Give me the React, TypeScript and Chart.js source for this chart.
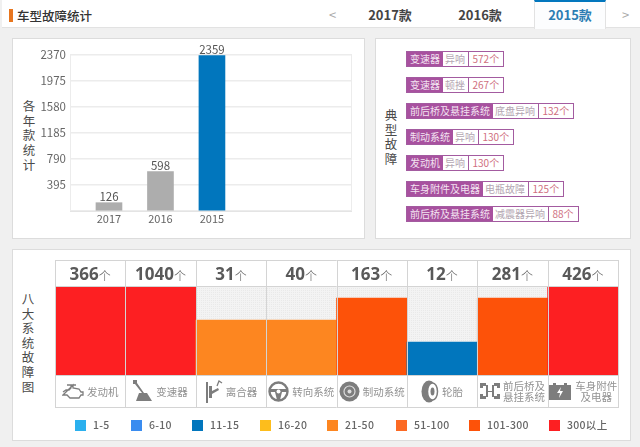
import React, { useEffect, useRef } from "react";
import { Chart, registerables } from "chart.js";

Chart.register(...registerables);

const FONT = '"Noto Sans CJK SC", "Noto Sans", sans-serif';

// Yearly chart
const years = ["2017", "2016", "2015"];
const yearPositions = [1, 2, 3];
const yearCounts = [126, 598, 2359];
const yearColors = ["#adadad", "#adadad", "#0176bd"];
const yearTicks = [0, 395, 790, 1185, 1580, 1975, 2370];

// Typical faults
const faultSystems = ["变速器", "变速器", "前后桥及悬挂系统", "制动系统", "发动机", "车身附件及电器", "前后桥及悬挂系统"];
const faultKinds = ["异响", "顿挫", "底盘异响", "异响", "异响", "电瓶故障", "减震器异响"];
const faultCounts = ["572个", "267个", "132个", "130个", "130个", "125个", "88个"];

// Eight systems
const systemNames = ["发动机", "变速器", "离合器", "转向系统", "制动系统", "轮胎", "前后桥及\n悬挂系统", "车身附件\n及电器"];
const systemCounts = [366, 1040, 31, 40, 163, 12, 281, 426];
const systemLevels = [8, 8, 5, 5, 7, 3, 7, 8];

// Legend
const levelLabels = ["1-5", "6-10", "11-15", "16-20", "21-50", "51-100", "101-300", "300以上"];
const levelColors = ["#2bb0ee", "#3a8cf0", "#0176bd", "#fdbd1c", "#fd8620", "#fc6a24", "#fd5209", "#fd1f22"];

const tabs = ["2017款", "2016款", "2015款"];
const verticalTitle = (s: string) => s.split("");

const abs = (x: number, y: number, w: number, h: number): React.CSSProperties => ({
  position: "absolute", left: x, top: y, width: w, height: h,
});

const panel: React.CSSProperties = {
  position: "absolute", background: "#fff", border: "1px solid #dcdcdc", boxSizing: "border-box",
};

function VTitle({ text, x, y, gap, size }: { text: string; x: number; y: number; gap: number; size: number }) {
  return (
    <div style={{ position: "absolute", left: x, top: y, width: 20, textAlign: "center", color: "#4a4a4a", fontSize: size, lineHeight: `${gap}px` }}>
      {verticalTitle(text).map((c, i) => <div key={i}>{c}</div>)}
    </div>
  );
}

const iconColor = "#7d7d7d";
function Icon({ i }: { i: number }) {
  const s = { fill: "none", stroke: iconColor, strokeWidth: 1.3 };
  const f = { fill: iconColor };
  if (i === 0) return <svg width="22" height="17" viewBox="0 0 22 17"><path {...s} d="M1 9l3-2h3l2-2V2h-4M9 2h5M11 2v3l6 1 2 3h2v3h-2l-2 3H8l-3-3H1z" /></svg>;
  if (i === 1) return <svg width="20" height="22" viewBox="0 0 20 22"><path {...f} d="M0 0h4v3l7 10h3l5 8H3l3-8h3L2 4H0z" /></svg>;
  if (i === 2) return <svg width="18" height="25" viewBox="0 0 18 25"><path {...f} d="M1 3h2v21H1zM4 7h3v12H4zM7 12l6-3 1 2-7 4z" /><path {...s} d="M12 7l2-5 3 2" /></svg>;
  if (i === 3) return <svg width="21" height="21" viewBox="0 0 21 21"><circle cx="10.5" cy="10.5" r="9" fill="none" stroke={iconColor} strokeWidth="2.4" /><path {...f} d="M2 8h17v3h-5l-2 8H9l-2-8H2z" /><circle cx="10.5" cy="10.5" r="2" fill="#fff" /></svg>;
  if (i === 4) return <svg width="21" height="21" viewBox="0 0 21 21"><circle cx="10.5" cy="10.5" r="10" {...f} /><circle cx="10.5" cy="10.5" r="5.5" fill="none" stroke="#ddd" strokeWidth="1.2" /><circle cx="10.5" cy="10.5" r="2" fill="#ddd" /></svg>;
  if (i === 5) return <svg width="18" height="23" viewBox="0 0 18 23"><ellipse cx="8" cy="11.5" rx="7.5" ry="11" {...f} /><ellipse cx="11.5" cy="11.5" rx="5" ry="8.5" fill="#fff" stroke={iconColor} strokeWidth="1.5" /><ellipse cx="11.5" cy="11.5" rx="2" ry="4" {...f} /></svg>;
  if (i === 6) return <svg width="20" height="18" viewBox="0 0 20 18"><path {...f} d="M0 1h6v3H3v2H0zM14 1h6v5h-3V4h-3zM0 12h3v2h3v3H0zM14 14h3v-2h3v5h-6z" /><path d="M6 3h2v12H6zM12 3h2v12h-2z" {...f} /><path d="M6 9h8v1H6z" {...f} /></svg>;
  return <svg width="24" height="18" viewBox="0 0 24 18"><path {...f} d="M1 3h4V1h3v2h8V1h3v2h4v15H1z" /><path d="M13 5l-4 6h3l-1 5 4-7h-3z" fill="#fff" /></svg>;
}

function dotPattern(ctx: CanvasRenderingContext2D) {
  const p = document.createElement("canvas");
  p.width = 2; p.height = 2;
  const g = p.getContext("2d")!;
  g.fillStyle = "#f3f3f3"; g.fillRect(0, 0, 2, 2);
  g.fillStyle = "#e9e9e9"; g.fillRect(0, 0, 1, 1);
  return ctx.createPattern(p, "repeat")!;
}

export default function App() {
  const topRef = useRef<HTMLCanvasElement>(null);
  const botRef = useRef<HTMLCanvasElement>(null);

  useEffect(() => {
    const top = new Chart(topRef.current!, {
      type: "bar",
      data: {
        datasets: [{
          data: yearPositions.map((x, i) => ({ x, y: yearCounts[i] })),
          backgroundColor: yearColors,
          barThickness: 26,
        }],
      },
      options: {
        animation: false, responsive: false, events: [],
        layout: { padding: { top: 10, left: 0, right: 0, bottom: 0 } },
        plugins: { legend: { display: false }, tooltip: { enabled: false } },
        scales: {
          x: {
            type: "linear", min: 0.243, max: 5.72, offset: false,
            afterBuildTicks: (a: any) => { a.ticks = yearPositions.map((value) => ({ value })); },
            afterFit: (s: any) => { s.height = 17; },
            grid: { display: false, drawTicks: false, tickLength: 0, offset: false },
            border: { color: "#e4e4e4", width: 1 },
            ticks: {
              autoSkip: false, maxRotation: 0, padding: 1,
              color: "#666", font: { size: 11, family: FONT },
              callback: (v: any) => years[yearPositions.indexOf(Number(v))] ?? "",
            },
          },
          y: {
            min: 0, max: 2370,
            afterBuildTicks: (a: any) => { a.ticks = yearTicks.map((value) => ({ value })); },
            afterFit: (s: any) => { s.width = 48; },
            grid: { color: "#ececec", lineWidth: 1.5, drawTicks: false },
            border: { display: false },
            ticks: {
              padding: 4, color: "#666", font: { size: 11.5, family: FONT },
              callback: (v: any) => (Number(v) === 0 ? "" : String(v)),
            },
          },
        },
      },
      plugins: [{
        id: "valueLabels",
        afterDatasetsDraw(c: any) {
          const { ctx, chartArea: a } = c;
          const meta = c.getDatasetMeta(0);
          ctx.save();
          ctx.strokeStyle = "#ececec";
          ctx.lineWidth = 1;
          ctx.beginPath();
          ctx.moveTo(a.right - 0.5, a.top); ctx.lineTo(a.right - 0.5, a.bottom);
          ctx.moveTo(a.left + 0.5, a.top); ctx.lineTo(a.left + 0.5, a.bottom);
          ctx.stroke();
          ctx.font = `11.5px ${FONT}`;
          ctx.fillStyle = "#555";
          ctx.textAlign = "center";
          ctx.textBaseline = "alphabetic";
          meta.data.forEach((b: any, i: number) => ctx.fillText(String(yearCounts[i]), b.x, b.y - 2));
          ctx.restore();
        },
      }],
    } as any);

    const bot = new Chart(botRef.current!, {
      type: "bar",
      data: {
        labels: systemNames,
        datasets: [{
          data: systemLevels,
          backgroundColor: systemLevels.map((l) => levelColors[l - 1]),
          categoryPercentage: 1, barPercentage: 1,
          borderWidth: 0,
        }],
      },
      options: {
        animation: false, responsive: false, events: [],
        layout: { padding: { top: 27, bottom: 33, left: 0, right: 1 } },
        plugins: { legend: { display: false }, tooltip: { enabled: false } },
        scales: {
          x: { display: false },
          y: { display: false, min: 0, max: 8 },
        },
      },
      plugins: [{
        id: "cellGrid",
        beforeDatasetsDraw(c: any) {
          const { ctx, chartArea: a } = c;
          ctx.save();
          ctx.fillStyle = dotPattern(ctx);
          ctx.fillRect(a.left, a.top, a.right - a.left, a.bottom - a.top);
          ctx.restore();
        },
        afterDatasetsDraw(c: any) {
          const { ctx, chartArea: a, scales } = c;
          const band = (a.right - a.left) / systemNames.length;
          ctx.save();
          ctx.strokeStyle = "#d4d4d4";
          ctx.lineWidth = 1;
          ctx.beginPath();
          for (let i = 0; i <= systemNames.length; i++) {
            const x = Math.round(a.left + band * i) + 0.5;
            ctx.moveTo(x, 0);
            ctx.lineTo(x, c.height);
          }
          ctx.moveTo(a.left, 0.5); ctx.lineTo(a.right, 0.5);
          ctx.moveTo(a.left, c.height - 0.5); ctx.lineTo(a.right, c.height - 0.5);
          ctx.moveTo(a.left, a.top - 0.5); ctx.lineTo(a.right, a.top - 0.5);
          ctx.moveTo(a.left, a.bottom + 0.5); ctx.lineTo(a.right, a.bottom + 0.5);
          ctx.stroke();

          ctx.textBaseline = "alphabetic";
          systemCounts.forEach((n, i) => {
            const cx = scales.x.getPixelForValue(i);
            const num = String(n);
            ctx.font = `bold 17px "Open Sans", ${FONT}`;
            const w1 = ctx.measureText(num).width;
            ctx.font = `300 12px ${FONT}`;
            const w2 = ctx.measureText("个").width;
            const x0 = cx - (w1 + w2) / 2;
            ctx.textAlign = "left";
            ctx.fillStyle = "#595959";
            ctx.font = `bold 17px "Open Sans", ${FONT}`;
            ctx.fillText(num, x0, a.top - 7);
            ctx.font = `300 12px ${FONT}`;
            ctx.fillText("个", x0 + w1, a.top - 6);
          });
          ctx.restore();
        },
      }],
    } as any);

    return () => { top.destroy(); bot.destroy(); };
  }, []);

  const cellW = 563 / 8;
  return (
    <div style={{ position: "fixed", inset: 0, width: 640, height: 447, overflow: "hidden", background: "#f0f0f0", fontFamily: FONT }}>
      {/* header */}
      <div style={{ ...abs(2, 0, 638, 28), background: "#fff", borderBottom: "1px solid #e2e2e2", boxSizing: "border-box" }} />
      <div style={{ ...abs(9, 9, 4, 13), background: "#e8761e" }} />
      <div style={{ position: "absolute", left: 17, top: 6, fontSize: 12.5, fontWeight: 500, color: "#333", lineHeight: "19px" }}>车型故障统计</div>
      <div style={{ position: "absolute", left: 329, top: 5, fontSize: 13, color: "#aaa" }}>&lt;</div>
      <div style={{ position: "absolute", left: 622, top: 5, fontSize: 13, color: "#aaa" }}>&gt;</div>
      <div style={{ ...abs(534, 0, 72, 29), background: "#fcfdfe", borderTop: "2px solid #0176bd", borderLeft: "1px solid #e2e2e2", borderRight: "1px solid #e2e2e2", boxSizing: "border-box" }} />
      {tabs.map((t, i) => (
        <div key={t} style={{ position: "absolute", left: [368, 458, 548][i], top: 5, width: 44, textAlign: "center", fontSize: 13, fontWeight: 700, lineHeight: "20px", color: i === 2 ? "#2c7db3" : "#444", whiteSpace: "nowrap" }}>{t}</div>
      ))}

      {/* top-left panel */}
      <div style={{ ...panel, ...abs(12, 38, 353, 201) }} />
      <VTitle text="各年款统计" x={19} y={99} gap={14.7} size={12.5} />
      <canvas ref={topRef} width={330} height={184} style={{ position: "absolute", left: 22, top: 44, width: 330, height: 184 }} />

      {/* top-right panel */}
      <div style={{ ...panel, ...abs(375, 38, 256, 201) }} />
      <VTitle text="典型故障" x={381} y={108} gap={14.7} size={12.5} />
      {faultSystems.map((sys, i) => (
        <div key={i} style={{ position: "absolute", left: 406, top: 51 + i * 25.9, height: 16, display: "flex", fontSize: 10, lineHeight: "14px", whiteSpace: "nowrap", border: "1px solid #a35ba0", boxSizing: "border-box" }}>
          <span style={{ background: "#a8519f", color: "#f3e3f1", padding: "0 2.5px 0 3px" }}>{sys}</span>
          <span style={{ background: "#fff", color: "#b3a6b1", padding: "0 2.5px", borderRight: "1px solid #a35ba0" }}>{faultKinds[i]}</span>
          <span style={{ background: "#fff", color: "#cf6f80", padding: "0 4px" }}>{faultCounts[i]}</span>
        </div>
      ))}

      {/* bottom panel */}
      <div style={{ ...panel, ...abs(12, 249, 619, 192) }} />
      <VTitle text="八大系统故障图" x={18} y={292} gap={14.6} size={12.5} />
      <canvas ref={botRef} width={564} height={148} style={{ position: "absolute", left: 54.5, top: 260, width: 564, height: 148 }} />
      {systemNames.map((name, i) => (
        <div key={i} style={{ position: "absolute", left: 55 + i * cellW, top: 375, width: cellW, height: 32, display: "flex", alignItems: "center", justifyContent: "center", gap: 3 }}>
          <Icon i={i} />
          <div style={{ fontSize: 10.5, lineHeight: "11px", color: "#929292", textAlign: "center", whiteSpace: "pre" }}>{name}</div>
        </div>
      ))}

      {/* legend */}
      {levelLabels.map((l, i) => {
        const x = [75, 131, 192, 260, 327, 396, 469, 549][i];
        return (
          <React.Fragment key={l}>
            <div style={{ ...abs(x, 420, 11, 11), background: levelColors[i] }} />
            <div style={{ position: "absolute", left: x + 18, top: 416, fontSize: 10.5, lineHeight: "18px", color: "#666", fontWeight: 500, whiteSpace: "nowrap", letterSpacing: 0.3 }}>{l}</div>
          </React.Fragment>
        );
      })}
    </div>
  );
}
